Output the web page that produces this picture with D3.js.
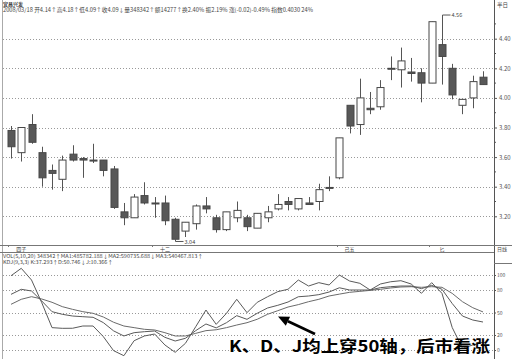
<!DOCTYPE html>
<html><head><meta charset="utf-8">
<script src="https://cdn.jsdelivr.net/npm/d3@7"></script>
<style>body{margin:0;background:#fff}svg{display:block}</style>
</head><body>
<script>
const openP  = [3.78,3.63,3.82,3.63,3.51,3.45,3.62,3.59,3.58,3.58,3.52,3.23,3.19,3.34,3.29,3.29,3.18,3.10,3.15,3.27,3.19,3.11,3.19,3.19,3.12,3.19,3.25,3.30,3.25,3.29,3.30,3.39,3.46,3.95,3.82,3.93,3.94,4.195,4.19,4.175,4.17,4.10,4.36,4.20,3.95,4.00,4.14];
const highP  = [3.81,3.80,3.89,3.67,3.55,3.61,3.68,3.60,3.69,3.58,3.54,3.29,3.35,3.43,3.33,3.34,3.19,3.16,3.28,3.33,3.21,3.23,3.30,3.21,3.22,3.27,3.35,3.33,3.32,3.33,3.42,3.47,3.73,3.95,4.13,4.04,4.12,4.28,4.34,4.27,4.20,4.515,4.56,4.23,3.99,4.15,4.18];
const lowP   = [3.59,3.57,3.69,3.40,3.38,3.37,3.57,3.46,3.56,3.47,3.25,3.14,3.19,3.28,3.19,3.14,3.04,3.06,3.11,3.22,3.09,3.10,3.16,3.10,3.12,3.16,3.24,3.24,3.24,3.28,3.24,3.37,3.45,3.76,3.75,3.89,3.92,4.12,4.07,4.11,3.97,4.10,4.09,3.99,3.89,3.93,4.09];
const closeP = [3.67,3.80,3.70,3.46,3.49,3.58,3.58,3.58,3.575,3.51,3.26,3.19,3.33,3.29,3.285,3.17,3.045,3.16,3.27,3.25,3.11,3.23,3.24,3.13,3.22,3.23,3.28,3.28,3.32,3.28,3.38,3.395,3.73,3.81,4.00,3.92,4.07,4.20,4.25,4.165,4.10,4.515,4.28,4.02,3.99,4.11,4.09];
const kVals = [74.2,80.9,78.7,65.3,51.1,47.6,45.3,44.4,43.6,36.5,25.5,18.7,23.1,24.4,25.3,16.9,12,15.6,25.8,34.7,29.5,36.4,45.8,40.9,49,56,59.6,64,71,72,73.8,77.3,83,80,80,80,83.1,84.4,85.3,85.3,81.8,86.2,81,62,45.3,40,37.293];
const dVals = [60.9,67.6,71.1,68,63.6,57.8,54.2,51.1,48.9,44,37,32,29.8,27.6,26.7,23.1,18.7,18.7,22.2,25.8,27,29.8,33.3,36.4,41,47.6,52.4,57.3,60.5,64.4,67.6,72,74.5,76.9,78.2,79.5,80.9,82.7,84,84.4,83.6,84.4,83.6,75.5,64.4,56.4,50.746];
const jVals = [99,108.9,93.3,63,29.8,28.9,29,32,32,17.8,-0.9,-7.6,12.4,18.7,21.3,6.7,-3.1,8.9,31,53.3,34.2,48.9,67.6,49.8,63.6,71,77.8,81,93.3,85.3,89.8,86.7,100,92,88.9,80,88,91,92.4,88,75.6,89.8,75.6,30,2.2,6.7,10.366];
const priceTicks = [3.2,3.4,3.6,3.8,4.0,4.2,4.4];
const kdjTicks = [0,20,50,80,100];
const xLabels = [{i:1,t:"四子"},{i:15,t:"十二"},{i:33,t:"己五"},{i:42,t:"匕"}];
const headTitle = "宜昌兴发";
const headInfo = "2008/03/18 开4.14↑高4.18↑低4.09↑收4.09↓量348342↑额14277↑换2.40% 振2.19% 涨(-0.02)-0.49% 指数0.4030 24%";
const volInfo = "VOL(5,10,20) 348342↑MA1:485782.188↓MA2:590735.688↓MA3:540467.813↑";
const kdjInfo = "KDJ(9,3,3) K:37.293↑D:50.746↓J:10.366↑";
const note = "K、D、J均上穿50轴，后市看涨";

const W=512,H=359, axisX=494;
const svg=d3.select("body").append("svg").attr("width",W).attr("height",H);
svg.append("rect").attr("width",W).attr("height",H).attr("fill","#fff");
const n=openP.length;
const x=d3.scaleLinear().domain([0,n-1]).range([11,483]);
const y=d3.scaleLinear().domain([3.2,4.4]).range([216.3,38.7]);
const yk=d3.scaleLinear().domain([0,100]).range([350,275]);
const font="'Noto Sans CJK SC','DejaVu Sans',sans-serif";

// frame
svg.append("line").attr("x1",2.5).attr("x2",2.5).attr("y1",0).attr("y2",H).attr("stroke","#aaa");
svg.append("line").attr("x1",axisX+0.5).attr("x2",axisX+0.5).attr("y1",0).attr("y2",H).attr("stroke","#555");
svg.append("line").attr("x1",0).attr("x2",W).attr("y1",245.5).attr("y2",245.5).attr("stroke","#777");
svg.append("line").attr("x1",0).attr("x2",axisX).attr("y1",252.5).attr("y2",252.5).attr("stroke","#777");
svg.append("line").attr("x1",axisX).attr("x2",W).attr("y1",263.5).attr("y2",263.5).attr("stroke","#777");

// main grid
svg.append("g").selectAll("line").data(priceTicks).join("line")
  .attr("x1",3).attr("x2",axisX).attr("y1",d=>Math.round(y(d))+0.5).attr("y2",d=>Math.round(y(d))+0.5)
  .attr("stroke","#999").attr("stroke-dasharray","1,2");
const yAxis=d3.axisRight(y).tickValues(priceTicks).tickFormat(d3.format(".2f")).tickSize(3).tickPadding(2);
const ga=svg.append("g").attr("transform",`translate(${axisX},0)`).call(yAxis);
ga.select(".domain").remove();
ga.selectAll("text").attr("font-size",6).attr("fill","#555").attr("font-family",font);
ga.selectAll("line").attr("stroke","#555");
const minorTicks=d3.range(3.3,4.5,0.2);
svg.append("g").selectAll("line").data(minorTicks).join("line")
  .attr("x1",axisX).attr("x2",axisX+2).attr("y1",d=>y(d)).attr("y2",d=>y(d)).attr("stroke","#555");

// candles
const bw=7;
const cg=svg.append("g");
d3.range(n).forEach(i=>{
  const up=closeP[i]>=openP[i];
  const cx=Math.round(x(i))+0.5;
  cg.append("line").attr("x1",cx).attr("x2",cx).attr("y1",y(highP[i])).attr("y2",y(lowP[i])).attr("stroke","#555");
  const top=y(Math.max(openP[i],closeP[i])), bot=y(Math.min(openP[i],closeP[i]));
  const h=Math.max(1,bot-top);
  cg.append("rect").attr("x",cx-bw/2).attr("y",top).attr("width",bw).attr("height",h)
    .attr("fill",up?"#fff":"#585858").attr("stroke","#474747").attr("stroke-width",1);
});
// max/min labels
const iMax=d3.maxIndex(highP), iMin=d3.minIndex(lowP);
const mx=Math.round(x(iMax))+0.5, my=y(highP[iMax]);
svg.append("path").attr("d",`M${mx},${my+3}V${my}H${mx+8}`).attr("fill","none").attr("stroke","#555");
svg.append("text").attr("x",mx+9).attr("y",my+2).attr("font-size",5.5).attr("fill","#444").attr("font-family",font).text(d3.format(".2f")(highP[iMax]));
const nx=Math.round(x(iMin))+0.5, ny=y(lowP[iMin]);
svg.append("path").attr("d",`M${nx},${ny-2}V${ny+1.5}H${nx+8}`).attr("fill","none").attr("stroke","#555");
svg.append("text").attr("x",nx+9).attr("y",ny+4).attr("font-size",5.5).attr("fill","#444").attr("font-family",font).text(d3.format(".2f")(lowP[iMin]));

// x labels
svg.append("g").selectAll("text").data(xLabels).join("text")
  .attr("x",d=>x(d.i)).attr("y",251).attr("text-anchor","middle").attr("font-size",5)
  .attr("fill","#444").attr("font-family",font).text(d=>d.t);
svg.append("g").selectAll("line").data(xLabels).join("line")
  .attr("x1",d=>Math.round(x(d.i))-12.5).attr("x2",d=>Math.round(x(d.i))-12.5).attr("y1",245).attr("y2",247).attr("stroke","#777");
svg.append("text").attr("x",497).attr("y",251).attr("font-size",5).attr("fill","#444").attr("font-family",font).text("日线");
svg.append("text").attr("x",497).attr("y",6.5).attr("font-size",5.5).attr("fill","#444").attr("font-family",font).text("半日");

// header texts
svg.append("text").attr("x",3).attr("y",5.5).attr("font-size",5).attr("font-weight","bold").attr("fill","#444").attr("font-family",font).text(headTitle);
svg.append("text").attr("x",3).attr("y",11.5).attr("font-size",5.5).attr("fill","#444").attr("font-family",font)
  .attr("textLength",310).attr("lengthAdjust","spacingAndGlyphs").text(headInfo);
svg.append("text").attr("x",3).attr("y",257.5).attr("font-size",5).attr("fill","#444").attr("font-family",font)
  .attr("textLength",200).attr("lengthAdjust","spacingAndGlyphs").text(volInfo);
svg.append("text").attr("x",3).attr("y",263.5).attr("font-size",5).attr("fill","#444").attr("font-family",font)
  .attr("textLength",110).attr("lengthAdjust","spacingAndGlyphs").text(kdjInfo);

// KDJ grid & axis
svg.append("g").selectAll("line").data(kdjTicks).join("line")
  .attr("x1",3).attr("x2",axisX).attr("y1",d=>Math.round(yk(d))+0.5).attr("y2",d=>Math.round(yk(d))+0.5)
  .attr("stroke","#999").attr("stroke-dasharray","1,2");
const kAxis=d3.axisRight(yk).tickValues(kdjTicks).tickSize(2).tickPadding(1);
const gk=svg.append("g").attr("transform",`translate(${axisX},0)`).call(kAxis);
gk.select(".domain").remove();
gk.selectAll("text").attr("font-size",5).attr("fill","#555").attr("font-family",font);
gk.selectAll("line").attr("stroke","#555");

const line=d3.line().x((d,i)=>x(i)).y(d=>yk(d));
[[dVals,"#6a6a6a"],[kVals,"#5a5a5a"],[jVals,"#5a5a5a"]].forEach(([arr,c])=>{
  svg.append("path").datum(arr).attr("d",line).attr("fill","none").attr("stroke",c).attr("stroke-width",1);
});

// annotation arrow
const ax1=315, ay1=334, ax2=278, ay2=316.5;
const ang=Math.atan2(ay2-ay1,ax2-ax1);
const hl=11, hw=5;
const bx=ax2-hl*Math.cos(ang), by=ay2-hl*Math.sin(ang);
svg.append("line").attr("x1",ax1).attr("y1",ay1).attr("x2",bx).attr("y2",by).attr("stroke","#000").attr("stroke-width",2.6);
svg.append("path").attr("d",`M${ax2},${ay2}L${bx+hw*Math.sin(ang)},${by-hw*Math.cos(ang)}L${bx-hw*Math.sin(ang)},${by+hw*Math.cos(ang)}Z`).attr("fill","#000");
svg.append("text").attr("x",229).attr("y",352).attr("font-size",16).attr("font-weight","bold").attr("fill","#000")
  .attr("font-family","'Noto Sans CJK SC',sans-serif").attr("textLength",261).attr("lengthAdjust","spacingAndGlyphs").text(note);
</script>
</body></html>
